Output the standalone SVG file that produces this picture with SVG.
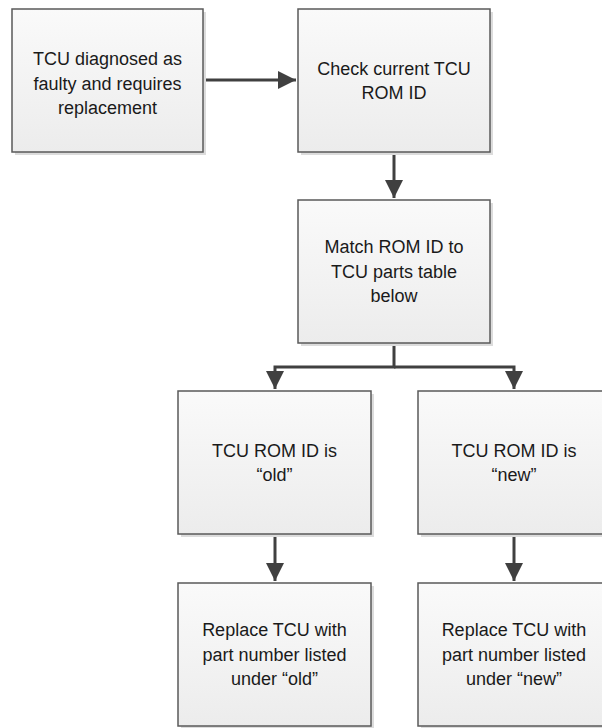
<svg xmlns="http://www.w3.org/2000/svg" width="602" height="728" viewBox="0 0 602 728">
<defs>
<linearGradient id="g" x1="0" y1="0" x2="0" y2="1">
<stop offset="0" stop-color="#fafafa"/>
<stop offset="1" stop-color="#ececec"/>
</linearGradient>
<marker id="ah" markerUnits="userSpaceOnUse" markerWidth="18" markerHeight="20" refX="18" refY="9" orient="auto" viewBox="0 0 18 18">
<path d="M0,0 L18,9 L0,18 Z" fill="#404040"/>
</marker>
<style>
.sh{fill:#dcdcdc;}
.bx{fill:url(#g);stroke:#5a5a5a;stroke-width:1.5;}
.t{font-family:"Liberation Sans",Arial,sans-serif;font-size:18px;fill:#1a1a1a;text-anchor:middle;}
.c{fill:none;stroke:#404040;stroke-width:3;}
</style>
</defs>
<g id="connectors">
<path class="c" d="M203,80 H296" marker-end="url(#ah)"/>
<path class="c" d="M394,152 V198" marker-end="url(#ah)"/>
<path class="c" d="M394,343 V367 H275 V389" marker-end="url(#ah)"/>
<path class="c" d="M394,367 H514 V389" marker-end="url(#ah)"/>
<path class="c" d="M275,534 V581" marker-end="url(#ah)"/>
<path class="c" d="M514,534 V581" marker-end="url(#ah)"/>
</g>
<g id="n1">
<rect class="sh" x="15" y="12" width="191" height="143"/>
<rect class="bx" x="12" y="9" width="191" height="143"/>
<text class="t" x="107.5" y="65">TCU diagnosed as</text>
<text class="t" x="107.5" y="89.5">faulty and requires</text>
<text class="t" x="107.5" y="114">replacement</text>
</g>
<g id="n2">
<rect class="sh" x="301" y="12" width="192" height="143"/>
<rect class="bx" x="298" y="9" width="192" height="143"/>
<text class="t" x="394" y="74.5">Check current TCU</text>
<text class="t" x="394" y="99">ROM ID</text>
</g>
<g id="n3">
<rect class="sh" x="301" y="203" width="192" height="143"/>
<rect class="bx" x="298" y="200" width="192" height="143"/>
<text class="t" x="394" y="253">Match ROM ID to</text>
<text class="t" x="394" y="277.5">TCU parts table</text>
<text class="t" x="394" y="302">below</text>
</g>
<g id="n4">
<rect class="sh" x="181" y="394" width="193" height="143"/>
<rect class="bx" x="178" y="391" width="193" height="143"/>
<text class="t" x="274.5" y="456.5">TCU ROM ID is</text>
<text class="t" x="274.5" y="481">“old”</text>
</g>
<g id="n5">
<rect class="sh" x="421" y="394" width="193" height="143"/>
<rect class="bx" x="418" y="391" width="193" height="143"/>
<text class="t" x="514" y="456.5">TCU ROM ID is</text>
<text class="t" x="514" y="481">“new”</text>
</g>
<g id="n6">
<rect class="sh" x="181" y="586" width="193" height="143"/>
<rect class="bx" x="178" y="583" width="193" height="143"/>
<text class="t" x="274.5" y="636">Replace TCU with</text>
<text class="t" x="274.5" y="660.5">part number listed</text>
<text class="t" x="274.5" y="685">under “old”</text>
</g>
<g id="n7">
<rect class="sh" x="421" y="586" width="193" height="143"/>
<rect class="bx" x="418" y="583" width="193" height="143"/>
<text class="t" x="514" y="636">Replace TCU with</text>
<text class="t" x="514" y="660.5">part number listed</text>
<text class="t" x="514" y="685">under “new”</text>
</g>
</svg>
